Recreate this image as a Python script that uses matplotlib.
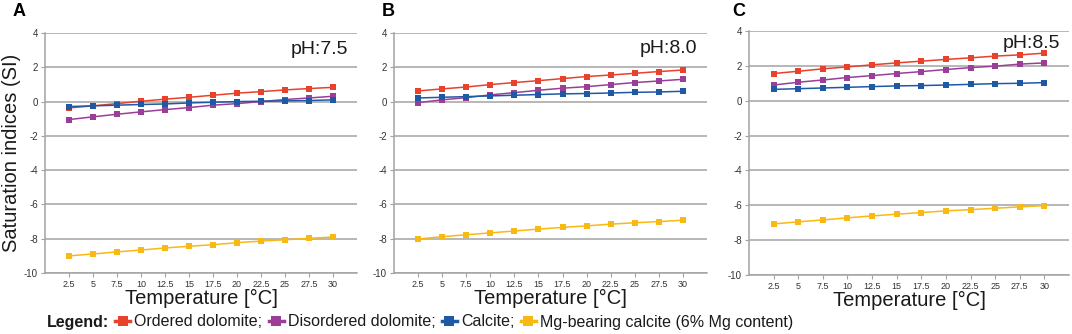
import matplotlib
matplotlib.use("Agg")
import matplotlib.pyplot as plt
from matplotlib.lines import Line2D
import numpy as np

plt.rcParams['font.family'] = ['Liberation Sans', 'DejaVu Sans']
plt.rcParams['axes.unicode_minus'] = False

temperatures = ["2.5", "5", "7.5", "10", "12.5", "15", "17.5", "20", "22.5", "25", "27.5", "30"]
series_names = ["Ordered dolomite;", "Disordered dolomite;", "Calcite;", "Mg-bearing calcite (6% Mg content)"]
series_colors = ["#e8412c", "#9a3e98", "#1f59a6", "#f8b914"]
panel_letters = ["A", "B", "C"]
ph_labels = ["pH:7.5", "pH:8.0", "pH:8.5"]

# pH 7.5
ordered_75 = [-0.37, -0.25, -0.12, 0.02, 0.14, 0.25, 0.37, 0.49, 0.58, 0.68, 0.76, 0.83]
disordered_75 = [-1.05, -0.89, -0.74, -0.60, -0.47, -0.35, -0.21, -0.12, 0.00, 0.12, 0.21, 0.31]
calcite_75 = [-0.29, -0.25, -0.21, -0.17, -0.14, -0.08, -0.04, 0.00, 0.02, 0.04, 0.06, 0.10]
mgcalcite_75 = [-9.00, -8.89, -8.77, -8.66, -8.54, -8.44, -8.35, -8.23, -8.14, -8.06, -7.98, -7.90]

# pH 8.0
ordered_80 = [0.62, 0.74, 0.85, 0.99, 1.11, 1.22, 1.34, 1.46, 1.55, 1.65, 1.75, 1.84]
disordered_80 = [-0.06, 0.10, 0.23, 0.39, 0.52, 0.66, 0.78, 0.87, 0.99, 1.11, 1.20, 1.30]
calcite_80 = [0.21, 0.25, 0.29, 0.33, 0.37, 0.41, 0.45, 0.47, 0.50, 0.54, 0.56, 0.60]
mgcalcite_80 = [-8.02, -7.88, -7.77, -7.66, -7.55, -7.44, -7.34, -7.25, -7.15, -7.07, -7.00, -6.92]

# pH 8.5
ordered_85 = [1.56, 1.69, 1.83, 1.94, 2.06, 2.17, 2.27, 2.37, 2.46, 2.56, 2.63, 2.73]
disordered_85 = [0.90, 1.06, 1.19, 1.33, 1.44, 1.56, 1.67, 1.79, 1.90, 1.98, 2.10, 2.17]
calcite_85 = [0.65, 0.69, 0.73, 0.77, 0.81, 0.85, 0.87, 0.90, 0.94, 0.98, 1.00, 1.04]
mgcalcite_85 = [-7.07, -6.95, -6.84, -6.72, -6.61, -6.51, -6.42, -6.32, -6.25, -6.17, -6.09, -6.02]

panels = [
    [ordered_75, disordered_75, calcite_75, mgcalcite_75],
    [ordered_80, disordered_80, calcite_80, mgcalcite_80],
    [ordered_85, disordered_85, calcite_85, mgcalcite_85],
]

W, H = 1072, 334
fig = plt.figure(figsize=(W / 100, H / 100), dpi=100)

# axes boxes in pixels: left, top, right, bottom
boxes = [(45, 33, 357, 273), (394, 33, 707, 273), (749, 31, 1069, 275)]
letter_x = [13, 382, 732]
ph_pos = [(0.971, 0.93), (0.968, 0.937), (0.972, 0.95)]

grid_col = "#a3a3a3"
x = np.arange(1, len(temperatures) + 1)

for i, (box, data) in enumerate(zip(boxes, panels)):
    l, t, r, b = box
    ax = fig.add_axes([l / W, 1 - b / H, (r - l) / W, (b - t) / H])
    for vals, col in zip(data, series_colors):
        ax.plot(x, vals, color=col, lw=1.1, marker='s', ms=4.5,
                markeredgewidth=0, zorder=3)
    ax.set_xlim(0, len(temperatures) + 1)
    ax.set_ylim(-10, 4)
    ax.set_yticks(np.arange(-10, 5, 2))
    ax.set_xticks(x)
    ax.set_xticklabels(temperatures)
    ax.yaxis.grid(True, color=grid_col, lw=1.1)
    ax.set_axisbelow(True)
    for s in ["top", "right"]:
        ax.spines[s].set_visible(False)
    for s in ["left", "bottom"]:
        ax.spines[s].set_color(grid_col)
        ax.spines[s].set_linewidth(1.1)
    ax.tick_params(axis='y', labelsize=7, colors=grid_col, labelcolor="#333333",
                   length=3, width=0.8, pad=2)
    ax.tick_params(axis='x', labelsize=6.5, colors=grid_col, labelcolor="#333333",
                   length=3, width=0.8, pad=2)
    ax.set_xlabel("Temperature [°C]", fontsize=14.5, color="#1a1a1a", labelpad=0)
    px, py = ph_pos[i]
    ax.text(px, py, ph_labels[i], transform=ax.transAxes, ha='right', va='center',
            fontsize=14, color="#1a1a1a", zorder=5)
    fig.text(letter_x[i] / W, 1 - 11 / H, panel_letters[i], fontsize=13,
             fontweight='bold', ha='left', va='center')
    if i == 0:
        ax.set_ylabel("Saturation indices (SI)", fontsize=14.5, color="#1a1a1a")
        ax.yaxis.set_label_coords(-0.077, 0.5)

# legend row
fig.text(47 / W, 1 - 322 / H, "Legend:", fontsize=11.5, fontweight='bold',
         ha='left', va='center', color="#1a1a1a")
handles = [Line2D([0], [0], color=c, lw=2.5, marker='s', ms=7, markeredgewidth=0)
           for c in series_colors]
leg = fig.legend(handles, series_names, loc='center left',
                 bbox_to_anchor=(115 / W, 1 - 322 / H), ncol=4, frameon=False,
                 fontsize=11.5, handlelength=0.95, handletextpad=0.25,
                 columnspacing=0.4, borderpad=0, borderaxespad=0)
for txt in leg.get_texts():
    txt.set_color("#1a1a1a")

fig.savefig("out.png", dpi=100)
